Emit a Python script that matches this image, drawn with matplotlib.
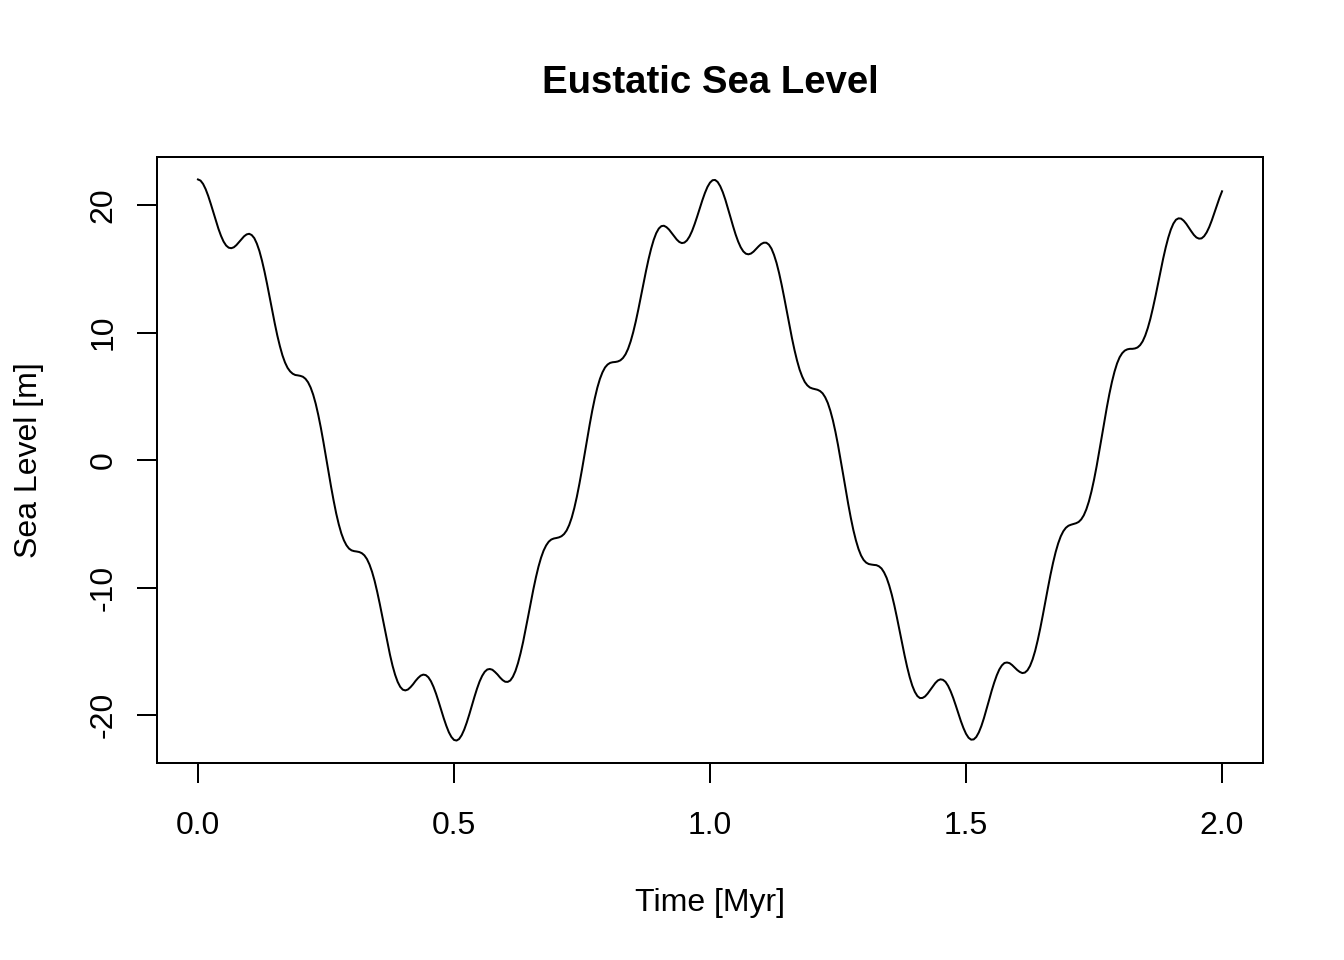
import numpy as np
import matplotlib
matplotlib.use("Agg")
import matplotlib.pyplot as plt

plt.rcParams['font.family'] = ['Liberation Sans', 'DejaVu Sans']

# time axis in Myr, sampled every 0.005 Myr
time = np.linspace(0, 2, 401)

# eustatic sea level [m]
sea_level = [
    22.00, 21.91, 21.65, 21.24, 20.71, 20.09, 19.43, 18.76, 18.13, 17.58,
    17.13, 16.82, 16.65, 16.61, 16.68, 16.85, 17.08, 17.31, 17.54, 17.69,
    17.74, 17.64, 17.40, 16.97, 16.39, 15.64, 14.77, 13.80, 12.77, 11.72,
    10.71, 9.76, 8.93, 8.21, 7.65, 7.23, 6.95, 6.77, 6.67, 6.64,
    6.60, 6.53, 6.37, 6.10, 5.69, 5.13, 4.41, 3.53, 2.53, 1.42,
    0.25, -0.94, -2.10, -3.19, -4.19, -5.04, -5.75, -6.29, -6.68, -6.94,
    -7.08, -7.14, -7.17, -7.21, -7.30, -7.47, -7.76, -8.19, -8.76, -9.47,
    -10.32, -11.26, -12.27, -13.30, -14.31, -15.26, -16.12, -16.83, -17.39, -17.78,
    -18.00, -18.06, -17.99, -17.81, -17.58, -17.31, -17.08, -16.90, -16.82, -16.86,
    -17.03, -17.34, -17.78, -18.32, -18.94, -19.59, -20.24, -20.83, -21.34, -21.71,
    -21.94, -21.99, -21.87, -21.57, -21.13, -20.57, -19.93, -19.24, -18.56, -17.92,
    -17.36, -16.92, -16.60, -16.42, -16.38, -16.44, -16.61, -16.81, -17.05, -17.25,
    -17.38, -17.39, -17.28, -16.99, -16.54, -15.92, -15.15, -14.26, -13.26, -12.22,
    -11.17, -10.14, -9.20, -8.36, -7.66, -7.10, -6.69, -6.40, -6.23, -6.15,
    -6.11, -6.06, -5.97, -5.80, -5.52, -5.09, -4.51, -3.76, -2.87, -1.85,
    -0.74, 0.44, 1.63, 2.78, 3.87, 4.84, 5.68, 6.36, 6.88, 7.26,
    7.49, 7.62, 7.67, 7.69, 7.73, 7.82, 8.00, 8.29, 8.72, 9.30,
    10.02, 10.86, 11.80, 12.80, 13.82, 14.82, 15.75, 16.57, 17.26, 17.79,
    18.15, 18.34, 18.37, 18.26, 18.07, 17.81, 17.54, 17.29, 17.10, 17.01,
    17.05, 17.22, 17.53, 17.96, 18.50, 19.10, 19.74, 20.36, 20.93, 21.41,
    21.75, 21.94, 21.96, 21.80, 21.47, 21.00, 20.41, 19.74, 19.04, 18.34,
    17.69, 17.13, 16.68, 16.36, 16.18, 16.13, 16.19, 16.34, 16.55, 16.76,
    16.94, 17.04, 17.04, 16.89, 16.58, 16.09, 15.45, 14.65, 13.73, 12.72,
    11.66, 10.59, 9.57, 8.63, 7.80, 7.09, 6.55, 6.13, 5.86, 5.69,
    5.61, 5.56, 5.51, 5.41, 5.23, 4.92, 4.48, 3.87, 3.12, 2.21,
    1.18, 0.05, -1.12, -2.30, -3.46, -4.53, -5.49, -6.30, -6.97, -7.48,
    -7.83, -8.04, -8.15, -8.19, -8.22, -8.24, -8.33, -8.50, -8.81, -9.24,
    -9.83, -10.55, -11.39, -12.33, -13.32, -14.33, -15.31, -16.22, -17.02, -17.68,
    -18.17, -18.50, -18.66, -18.65, -18.53, -18.31, -18.03, -17.74, -17.48, -17.28,
    -17.19, -17.23, -17.39, -17.70, -18.13, -18.65, -19.24, -19.86, -20.47, -21.01,
    -21.46, -21.77, -21.92, -21.90, -21.71, -21.35, -20.85, -20.23, -19.54, -18.82,
    -18.10, -17.45, -16.88, -16.42, -16.10, -15.91, -15.87, -15.92, -16.07, -16.26,
    -16.46, -16.61, -16.70, -16.66, -16.48, -16.14, -15.63, -14.96, -14.13, -13.19,
    -12.16, -11.08, -10.02, -8.99, -8.05, -7.22, -6.53, -5.98, -5.58, -5.31,
    -5.15, -5.07, -5.01, -4.95, -4.85, -4.65, -4.33, -3.86, -3.24, -2.46,
    -1.54, -0.50, 0.63, 1.80, 2.99, 4.13, 5.19, 6.13, 6.93, 7.58,
    8.06, 8.38, 8.58, 8.68, 8.72, 8.72, 8.75, 8.83, 9.01, 9.31,
    9.76, 10.35, 11.07, 11.92, 12.84, 13.83, 14.83, 15.79, 16.67, 17.44,
    18.07, 18.54, 18.84, 18.95, 18.93, 18.77, 18.53, 18.23, 17.93, 17.65,
    17.45, 17.36, 17.38, 17.55, 17.85, 18.27, 18.79, 19.37, 19.97, 20.55,
    21.07,
]

x_ticks = [0.0, 0.5, 1.0, 1.5, 2.0]
x_tick_labels = ['0.0', '0.5', '1.0', '1.5', '2.0']
y_ticks = [-20, -10, 0, 10, 20]

W, H = 1344, 960
fig = plt.figure(figsize=(7, 5), dpi=192)
ax = fig.add_axes([157 / W, 1 - 763 / H, (1263 - 157) / W, (763 - 157) / H])

ax.plot(time, sea_level, color='black', lw=0.75)
ax.margins(x=0.04, y=0.04)

ax.set_xticks(x_ticks)
ax.set_xticklabels(x_tick_labels)
ax.set_yticks(y_ticks)
ax.set_yticklabels([str(v) for v in y_ticks])

ax.tick_params(axis='both', direction='out', length=7.5, width=0.75,
               labelsize=12, colors='black')
ax.tick_params(axis='x', pad=10.5)
ax.tick_params(axis='y', pad=7, labelrotation=90)
for lbl in ax.get_yticklabels():
    lbl.set_va('center')
for s in ax.spines.values():
    s.set_linewidth(0.75)

fig.text(710 / W, 1 - 83 / H, 'Eustatic Sea Level', ha='center', va='center',
         fontsize=14.4, fontweight='bold')
fig.text(710 / W, 1 - 903 / H, 'Time [Myr]', ha='center', va='center', fontsize=12)
fig.text(29 / W, 1 - 460 / H, 'Sea Level [m]', ha='center', va='center',
         rotation=90, fontsize=12)

fig.savefig('out.png', dpi=192)
